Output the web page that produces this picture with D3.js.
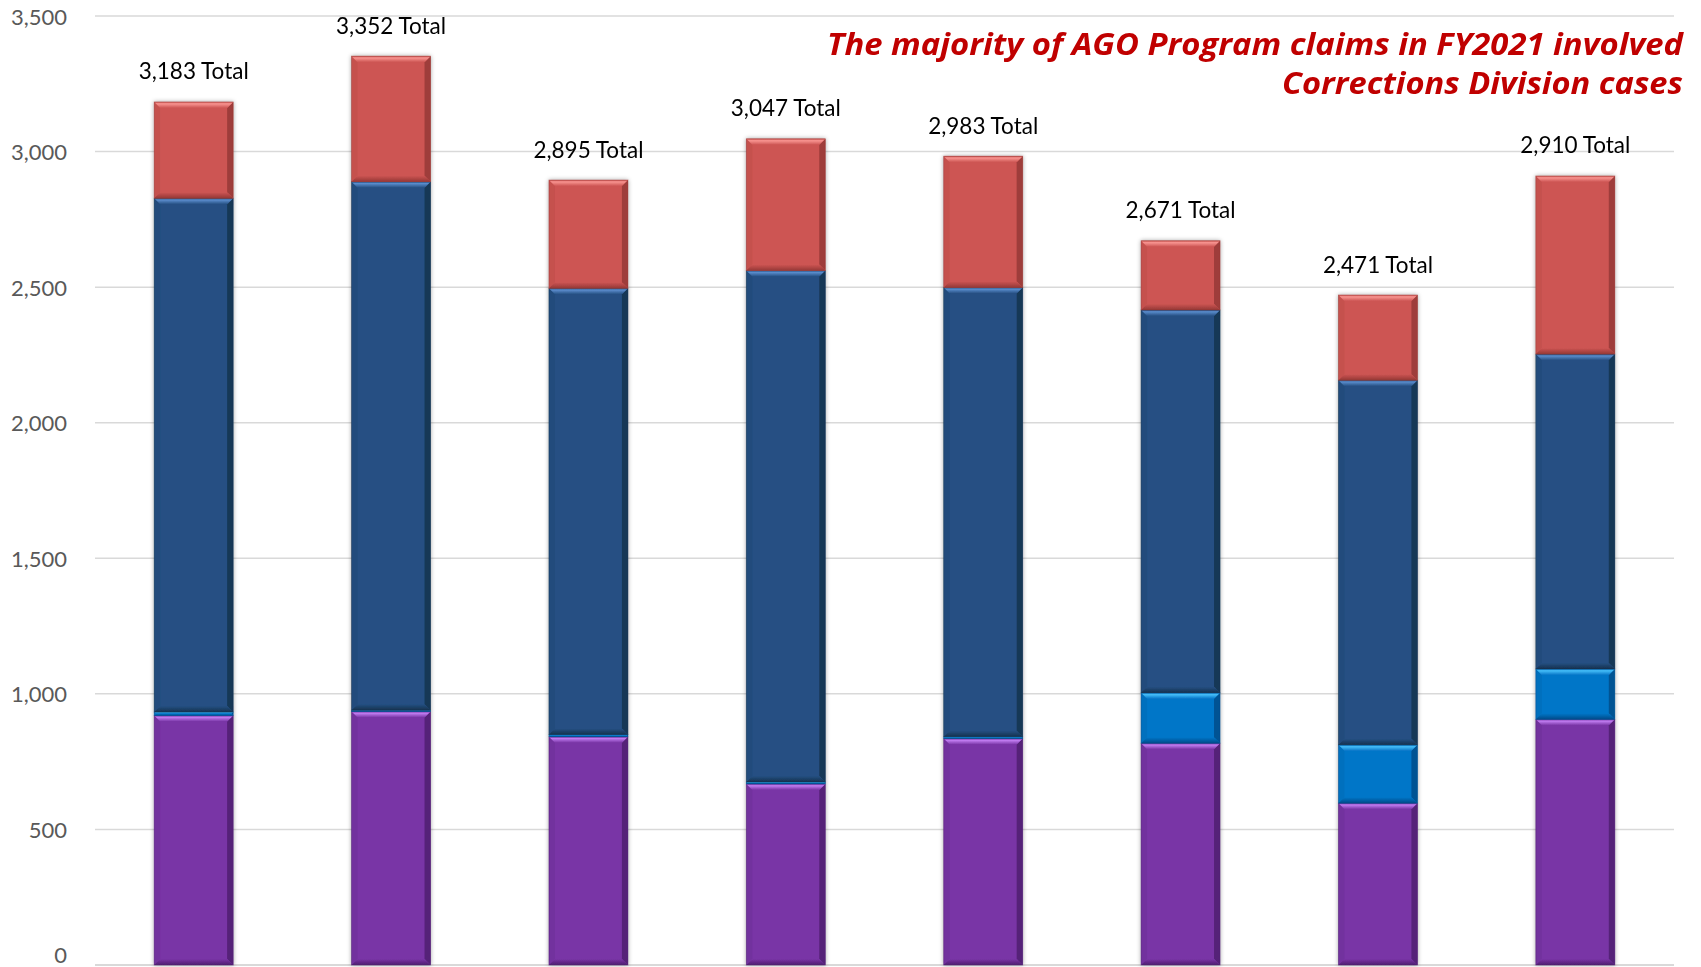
<!DOCTYPE html>
<html>
<head>
<meta charset="utf-8">
<script src="https://cdn.jsdelivr.net/npm/d3@7"></script>
<style>
  body { margin: 0; background: #fff; }
  svg { display: block; }
</style>
</head>
<body>
<svg id="chart" width="1701" height="967"></svg>
<script>
// fiscal years (axis labels fall below the visible area)
var categories = ["FY2014", "FY2015", "FY2016", "FY2017", "FY2018", "FY2019", "FY2020", "FY2021"];
// stacked from the bottom up
var purpleVals    = [920, 935, 842, 668, 835, 818, 597, 906];
var lightBlueVals = [13, 5, 8, 7, 7, 186, 215, 186];
var darkBlueVals  = [1895, 1949, 1646, 1886, 1657, 1412, 1345, 1161];
var redVals       = [355, 463, 399, 486, 484, 255, 314, 657];
var totals        = [3183, 3352, 2895, 3047, 2983, 2671, 2471, 2910];
var yTicks = [0, 500, 1000, 1500, 2000, 2500, 3000, 3500];
var titleLines = ["The majority of AGO Program claims in FY2021 involved", "Corrections Division cases"];

var keys = ["purple", "lightBlue", "darkBlue", "red"];
var colors = {
  purple:    {base: "#7935a6", top: "#c07cf0", bottom: "#4f1f70", side: "#6a2b93"},
  lightBlue: {base: "#0676c8", top: "#45bdf8", bottom: "#044c8a", side: "#0566b0"},
  darkBlue:  {base: "#255083", top: "#5a8ccc", bottom: "#16324f", side: "#1f4573"},
  red:       {base: "#cd5553", top: "#f89490", bottom: "#953836", side: "#b84a48"}
};

var rows = categories.map(function(c, i){
  return {cat: c, purple: purpleVals[i], lightBlue: lightBlueVals[i],
          darkBlue: darkBlueVals[i], red: redVals[i], total: totals[i]};
});

var svg = d3.select("#chart");

var x = d3.scaleBand()
  .domain(categories)
  .range([95, 1674])
  .paddingInner(0.6)
  .paddingOuter(0.3);

var y = d3.scaleLinear()
  .domain([0, 3500])
  .range([965, 16]);

// gradients for the bevel edges
var defs = svg.append("defs");
keys.forEach(function(k){
  var g = defs.append("linearGradient").attr("id", "top-" + k)
    .attr("x1", 0).attr("y1", 0).attr("x2", 0).attr("y2", 1);
  g.append("stop").attr("offset", "0%").attr("stop-color", colors[k].base);
  g.append("stop").attr("offset", "30%").attr("stop-color", colors[k].top);
  g.append("stop").attr("offset", "100%").attr("stop-color", colors[k].base);
  var b = defs.append("linearGradient").attr("id", "bot-" + k)
    .attr("x1", 0).attr("y1", 0).attr("x2", 0).attr("y2", 1);
  b.append("stop").attr("offset", "0%").attr("stop-color", colors[k].base);
  b.append("stop").attr("offset", "100%").attr("stop-color", colors[k].bottom);
});
var shadow = defs.append("filter").attr("id", "shadow")
  .attr("x", "-20%").attr("y", "-5%").attr("width", "140%").attr("height", "110%");
shadow.append("feDropShadow")
  .attr("dx", 0).attr("dy", 0).attr("stdDeviation", 2.2)
  .attr("flood-color", "#000").attr("flood-opacity", 0.35);

// gridlines
svg.append("g")
  .selectAll("line")
  .data(yTicks.slice(1))
  .enter()
  .append("line")
  .attr("x1", 95).attr("x2", 1674)
  .attr("y1", function(d){ return y(d); })
  .attr("y2", function(d){ return y(d); })
  .attr("stroke", "#d9d9d9")
  .attr("stroke-width", 1.5);

svg.append("line")
  .attr("x1", 95).attr("x2", 1674)
  .attr("y1", y(0)).attr("y2", y(0))
  .attr("stroke", "#d9d9d9")
  .attr("stroke-width", 2);

// y axis labels
svg.append("g")
  .selectAll("text")
  .data(yTicks)
  .enter()
  .append("text")
  .attr("x", 67)
  .attr("y", function(d){ return Math.min(y(d), 954); })
  .attr("text-anchor", "end")
  .attr("dominant-baseline", "central")
  .style("font-family", "Lato, 'Open Sans', sans-serif")
  .style("font-size", "22px")
  .style("fill", "#595959")
  .text(d3.format(","));

// stacked bars
var stack = d3.stack().keys(keys);
var series = stack(rows);

var bars = svg.append("g").attr("filter", "url(#shadow)");

series.forEach(function(s){
  var k = s.key, c = colors[k];
  var seg = bars.append("g").attr("class", "series-" + k)
    .selectAll("g")
    .data(s)
    .enter()
    .append("g")
    .attr("transform", function(d){ return "translate(" + x(d.data.cat) + "," + y(d[1]) + ")"; });

  seg.each(function(d){
    var g = d3.select(this);
    var w = x.bandwidth();
    var h = y(d[0]) - y(d[1]);
    if (h <= 0) return;
    var b = Math.min(6, h / 2);
    g.append("rect").attr("width", w).attr("height", h).attr("fill", c.base);
    // left / right edges
    g.append("polygon")
      .attr("points", [[0,0],[b,b],[b,h-b],[0,h]].join(" "))
      .attr("fill", c.side).attr("opacity", 0.4);
    g.append("polygon")
      .attr("points", [[w,0],[w-b,b],[w-b,h-b],[w,h]].join(" "))
      .attr("fill", c.bottom).attr("opacity", 0.85);
    // top and bottom bevels
    g.append("polygon")
      .attr("points", [[0,0],[w,0],[w-b,b],[b,b]].join(" "))
      .attr("fill", "url(#top-" + k + ")");
    g.append("polygon")
      .attr("points", [[b,h-b],[w-b,h-b],[w,h],[0,h]].join(" "))
      .attr("fill", "url(#bot-" + k + ")");
    g.append("rect").attr("width", w).attr("height", h)
      .attr("fill", "none").attr("stroke", c.bottom).attr("stroke-width", 0.8).attr("opacity", 0.6);
  });
});

// total labels
svg.append("g")
  .selectAll("text")
  .data(rows)
  .enter()
  .append("text")
  .attr("x", function(d){ return x(d.cat) + x.bandwidth() / 2; })
  .attr("y", function(d){ return y(d.total) - 31; })
  .attr("text-anchor", "middle")
  .attr("dominant-baseline", "central")
  .style("font-family", "Lato, 'Open Sans', sans-serif")
  .style("font-size", "22.5px")
  .style("fill", "#000")
  .text(function(d){ return d3.format(",")(d.total) + " Total"; });

// title, top right
var titleWidths = [856, 401];
svg.append("g")
  .selectAll("text")
  .data(titleLines)
  .enter()
  .append("text")
  .attr("x", 1683)
  .attr("y", function(d, i){ return 55 + i * 39; })
  .attr("text-anchor", "end")
  .attr("textLength", function(d, i){ return titleWidths[i]; })
  .attr("lengthAdjust", "spacingAndGlyphs")
  .style("font-family", "'Open Sans', sans-serif")
  .style("font-weight", "bold")
  .style("font-style", "italic")
  .style("font-size", "31px")
  .style("fill", "#c00000")
  .text(function(d){ return d; });
</script>
</body>
</html>
